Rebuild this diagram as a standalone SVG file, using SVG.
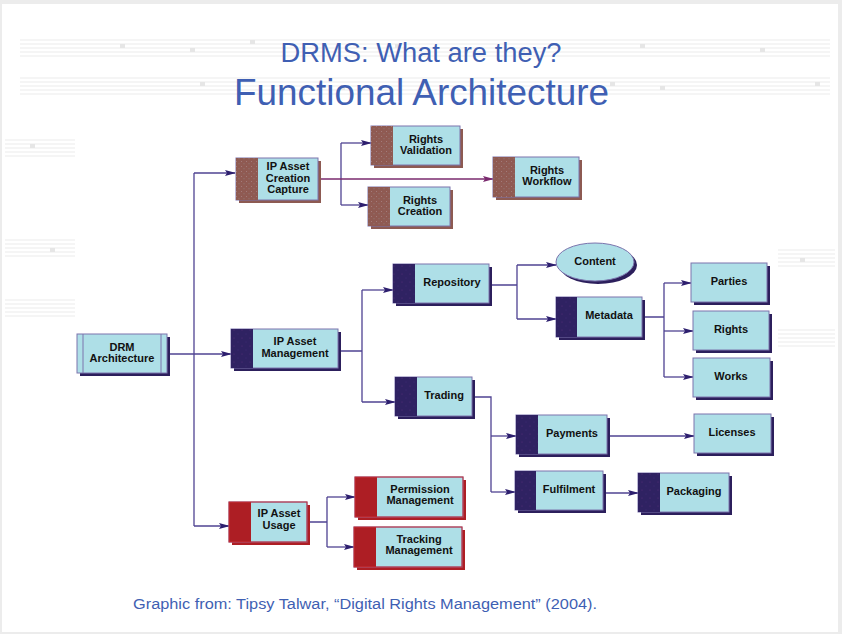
<svg xmlns="http://www.w3.org/2000/svg" width="842" height="634" viewBox="0 0 842 634">
<style>
.bg{fill:#ececec}
.page{fill:#ffffff}
.staff{stroke:#e6e6e6;stroke-width:0.8;fill:none}
.note{fill:#e6e6e6}
.lb{fill:#aedfe7;stroke:#7c74ad;stroke-width:1}
.sh-p{fill:#2c1f5c}
.sh-b{fill:#8d5a52}
.sh-r{fill:#ad1e24}
.dk-p{fill:url(#dotP)}
.dk-b{fill:url(#dotB)}
.dk-r{fill:#ad1e24}
.t{font-family:"Liberation Sans",Arial,Helvetica,sans-serif;font-weight:bold;font-size:11px;fill:#111;text-anchor:middle}
.title{font-family:"Liberation Sans",Arial,Helvetica,sans-serif;fill:#3f5fb3;text-anchor:middle}
.conn{stroke:#4f4392;stroke-width:1.3;fill:none}
.conn-m{stroke:#7a2a6e;stroke-width:1.3;fill:none}
</style>
<defs>
<pattern id="dotP" width="8" height="8" patternUnits="userSpaceOnUse">
<rect width="8" height="8" fill="#2f2262"/>
<circle cx="2" cy="2" r="0.5" fill="#5a2f7e"/>
<circle cx="6" cy="6" r="0.4" fill="#4a2f8a"/>
</pattern>
<pattern id="dotB" width="5" height="5" patternUnits="userSpaceOnUse">
<rect width="5" height="5" fill="#8f5a52"/>
<circle cx="1.5" cy="1.5" r="0.45" fill="#b89ea4"/>
<circle cx="4" cy="3.8" r="0.4" fill="#9ab4bc"/>
</pattern>
<marker id="arr" markerWidth="11" markerHeight="7" refX="10" refY="3.5" orient="auto" markerUnits="userSpaceOnUse">
<path d="M0,0.5 L11,3.5 L0,6.5 L2,3.5 Z" fill="#2d1f6e"/>
</marker>
<marker id="arrM" markerWidth="11" markerHeight="7" refX="10" refY="3.5" orient="auto" markerUnits="userSpaceOnUse">
<path d="M0,0.5 L11,3.5 L0,6.5 L2,3.5 Z" fill="#7a2a6e"/>
</marker>
</defs>

<rect class="bg" x="0" y="0" width="842" height="634"/>
<rect class="page" x="2" y="4" width="836" height="628"/>

<g id="background-music">
<path class="staff" d="M20,40 H830 M20,44 H830 M20,48 H830 M20,52 H830 M20,56 H830"/>
<path class="staff" d="M20,78 H830 M20,82 H830 M20,86 H830 M20,90 H830 M20,94 H830"/>
<path class="staff" d="M5,140 H75 M5,144 H75 M5,148 H75 M5,152 H75 M5,156 H75"/>
<path class="staff" d="M5,240 H75 M5,244 H75 M5,248 H75 M5,252 H75 M5,256 H75"/>
<path class="staff" d="M5,300 H75 M5,304 H75 M5,308 H75 M5,312 H75 M5,316 H75"/>
<path class="staff" d="M778,250 H835 M778,254 H835 M778,258 H835 M778,262 H835 M778,266 H835"/>
<path class="staff" d="M778,330 H835 M778,334 H835 M778,338 H835 M778,342 H835 M778,346 H835"/>
<g class="note">
<rect x="120" y="44" width="5" height="4"/><rect x="190" y="48" width="5" height="4"/><rect x="250" y="40" width="5" height="4"/>
<rect x="395" y="44" width="5" height="4"/><rect x="520" y="48" width="5" height="4"/><rect x="640" y="44" width="5" height="4"/>
<rect x="760" y="48" width="5" height="4"/><rect x="815" y="82" width="5" height="4"/><rect x="660" y="86" width="5" height="4"/>
<rect x="610" y="82" width="5" height="4"/><rect x="340" y="86" width="5" height="4"/><rect x="200" y="82" width="5" height="4"/>
<rect x="30" y="144" width="5" height="4"/><rect x="50" y="248" width="5" height="4"/><rect x="800" y="258" width="5" height="4"/>
</g>
</g>
<rect class="page" x="75" y="125" width="701" height="452"/>

<g id="titles">
<text class="title" x="421" y="62" font-size="27" textLength="281" lengthAdjust="spacingAndGlyphs">DRMS: What are they?</text>
<text class="title" x="421.5" y="105" font-size="37" textLength="375" lengthAdjust="spacingAndGlyphs">Functional Architecture</text>
</g>

<g id="connectors">
<path class="conn" d="M167,354 H231" marker-end="url(#arr)"/>
<path class="conn" d="M194,173 V526"/>
<path class="conn" d="M194,173 H235" marker-end="url(#arr)"/>
<path class="conn" d="M194,526 H229" marker-end="url(#arr)"/>
<path class="conn" d="M341,143 V205"/>
<path class="conn" d="M341,143 H371" marker-end="url(#arr)"/>
<path class="conn" d="M341,205 H368" marker-end="url(#arr)"/>
<path class="conn-m" d="M318,179 H493" marker-end="url(#arrM)"/>
<path class="conn" d="M338,351 H362 M362,290 V402"/>
<path class="conn" d="M362,290 H393" marker-end="url(#arr)"/>
<path class="conn" d="M362,402 H395" marker-end="url(#arr)"/>
<path class="conn" d="M489,285 H517 M517,265 V319"/>
<path class="conn" d="M517,265 H556" marker-end="url(#arr)"/>
<path class="conn" d="M517,319 H556" marker-end="url(#arr)"/>
<path class="conn" d="M642,317 H664 M664,283 V377"/>
<path class="conn" d="M664,283 H691" marker-end="url(#arr)"/>
<path class="conn" d="M664,331 H693" marker-end="url(#arr)"/>
<path class="conn" d="M664,377 H693" marker-end="url(#arr)"/>
<path class="conn" d="M472,397 H491 V492"/>
<path class="conn" d="M491,436 H516" marker-end="url(#arr)"/>
<path class="conn" d="M491,492 H515" marker-end="url(#arr)"/>
<path class="conn" d="M607,436 H694" marker-end="url(#arr)"/>
<path class="conn" d="M603,493 H638" marker-end="url(#arr)"/>
<path class="conn" d="M307,522 H327 M327,497 V547"/>
<path class="conn" d="M327,497 H355" marker-end="url(#arr)"/>
<path class="conn" d="M327,547 H354" marker-end="url(#arr)"/>
</g>

<g id="drm-architecture">
<rect class="sh-p" x="80" y="337" width="90" height="39"/>
<rect class="lb" x="77" y="334" width="90" height="39"/>
<path d="M83,334 V373 M161,334 V373" stroke="#7c74ad" stroke-width="1"/>
<text class="t" x="122" y="351">DRM</text>
<text class="t" x="122" y="362">Architecture</text>
</g>

<g id="ip-asset-creation">
<rect class="sh-b" x="239" y="161" width="82" height="42"/>
<rect class="lb" x="236" y="158" width="82" height="42"/>
<rect class="dk-b" x="236" y="158" width="22" height="42"/>
<text class="t" x="288" y="170">IP Asset</text>
<text class="t" x="288" y="181.5">Creation</text>
<text class="t" x="288" y="193">Capture</text>
</g>

<g id="rights-validation">
<rect class="sh-b" x="374" y="129" width="89" height="39"/>
<rect class="lb" x="371" y="126" width="89" height="39"/>
<rect class="dk-b" x="371" y="126" width="22" height="39"/>
<text class="t" x="426" y="143">Rights</text>
<text class="t" x="426" y="154">Validation</text>
</g>

<g id="rights-creation">
<rect class="sh-b" x="371" y="190" width="82" height="39"/>
<rect class="lb" x="368" y="187" width="82" height="39"/>
<rect class="dk-b" x="368" y="187" width="22" height="39"/>
<text class="t" x="420" y="204">Rights</text>
<text class="t" x="420" y="215">Creation</text>
</g>

<g id="rights-workflow">
<rect class="sh-b" x="496" y="160" width="86" height="40"/>
<rect class="lb" x="493" y="157" width="86" height="40"/>
<rect class="dk-b" x="493" y="157" width="22" height="40"/>
<text class="t" x="547" y="174">Rights</text>
<text class="t" x="547" y="185">Workflow</text>
</g>

<g id="ip-asset-management">
<rect class="sh-p" x="234" y="332" width="107" height="39"/>
<rect class="lb" x="231" y="329" width="107" height="39"/>
<rect class="dk-p" x="231" y="329" width="22" height="39"/>
<text class="t" x="295" y="345">IP Asset</text>
<text class="t" x="295" y="357">Management</text>
</g>

<g id="repository">
<rect class="sh-p" x="396" y="267" width="96" height="39"/>
<rect class="lb" x="393" y="264" width="96" height="39"/>
<rect class="dk-p" x="393" y="264" width="22" height="39"/>
<text class="t" x="452" y="286">Repository</text>
</g>

<g id="content">
<ellipse class="sh-p" cx="598" cy="265" rx="39" ry="19"/>
<ellipse class="lb" cx="595" cy="262" rx="39" ry="19"/>
<text class="t" x="595" y="265">Content</text>
</g>

<g id="metadata">
<rect class="sh-p" x="559" y="300" width="86" height="40"/>
<rect class="lb" x="556" y="297" width="86" height="40"/>
<rect class="dk-p" x="556" y="297" width="21" height="40"/>
<text class="t" x="609" y="319">Metadata</text>
</g>

<g id="parties">
<rect class="sh-p" x="694" y="266" width="76" height="39"/>
<rect class="lb" x="691" y="263" width="76" height="39"/>
<text class="t" x="729" y="285">Parties</text>
</g>

<g id="rights">
<rect class="sh-p" x="696" y="314" width="76" height="39"/>
<rect class="lb" x="693" y="311" width="76" height="39"/>
<text class="t" x="731" y="333">Rights</text>
</g>

<g id="works">
<rect class="sh-p" x="696" y="361" width="77" height="39"/>
<rect class="lb" x="693" y="358" width="77" height="39"/>
<text class="t" x="731" y="380">Works</text>
</g>

<g id="trading">
<rect class="sh-p" x="398" y="380" width="77" height="39"/>
<rect class="lb" x="395" y="377" width="77" height="39"/>
<rect class="dk-p" x="395" y="377" width="22" height="39"/>
<text class="t" x="444" y="399">Trading</text>
</g>

<g id="payments">
<rect class="sh-p" x="519" y="418" width="91" height="39"/>
<rect class="lb" x="516" y="415" width="91" height="39"/>
<rect class="dk-p" x="516" y="415" width="22" height="39"/>
<text class="t" x="572" y="437">Payments</text>
</g>

<g id="licenses">
<rect class="sh-p" x="697" y="417" width="77" height="39"/>
<rect class="lb" x="694" y="414" width="77" height="39"/>
<text class="t" x="732" y="436">Licenses</text>
</g>

<g id="fulfilment">
<rect class="sh-p" x="518" y="474" width="88" height="39"/>
<rect class="lb" x="515" y="471" width="88" height="39"/>
<rect class="dk-p" x="515" y="471" width="21" height="39"/>
<text class="t" x="569" y="493">Fulfilment</text>
</g>

<g id="packaging">
<rect class="sh-p" x="641" y="476" width="91" height="39"/>
<rect class="lb" x="638" y="473" width="91" height="39"/>
<rect class="dk-p" x="638" y="473" width="22" height="39"/>
<text class="t" x="694" y="495">Packaging</text>
</g>

<g id="ip-asset-usage">
<rect class="sh-r" x="232" y="505" width="78" height="40"/>
<rect class="lb" x="229" y="502" width="78" height="40"/>
<rect class="dk-r" x="229" y="502" width="22" height="40"/>
<rect x="229" y="502" width="78" height="40" fill="none" stroke="#c83038" stroke-width="1"/>
<text class="t" x="279" y="517">IP Asset</text>
<text class="t" x="279" y="529">Usage</text>
</g>

<g id="permission-management">
<rect class="sh-r" x="358" y="480" width="108" height="40"/>
<rect class="lb" x="355" y="477" width="108" height="40"/>
<rect class="dk-r" x="355" y="477" width="22" height="40"/>
<rect x="355" y="477" width="108" height="40" fill="none" stroke="#c83038" stroke-width="1"/>
<text class="t" x="420" y="493">Permission</text>
<text class="t" x="420" y="504">Management</text>
</g>

<g id="tracking-management">
<rect class="sh-r" x="357" y="530" width="108" height="40"/>
<rect class="lb" x="354" y="527" width="108" height="40"/>
<rect class="dk-r" x="354" y="527" width="22" height="40"/>
<rect x="354" y="527" width="108" height="40" fill="none" stroke="#c83038" stroke-width="1"/>
<text class="t" x="419" y="543">Tracking</text>
<text class="t" x="419" y="554">Management</text>
</g>

<g id="footer">
<text class="title" x="365" y="609" font-size="15.5" textLength="464" lengthAdjust="spacingAndGlyphs">Graphic from: Tipsy Talwar, “Digital Rights Management” (2004).</text>
</g>
</svg>
